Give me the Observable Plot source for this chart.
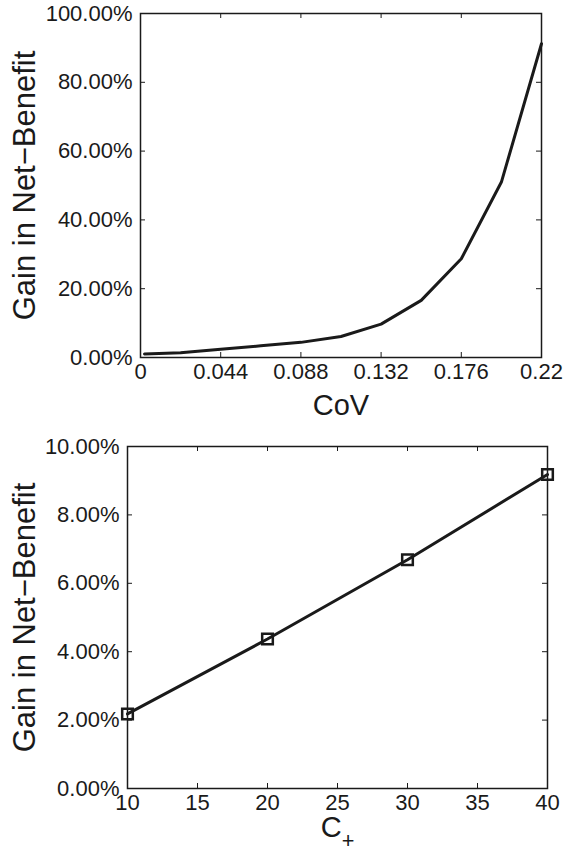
<!DOCTYPE html>
<html><head><meta charset="utf-8">
<script src="https://cdn.jsdelivr.net/npm/d3@7"></script>
<script src="https://cdn.jsdelivr.net/npm/@observablehq/plot@0.6"></script>
<style>
body{margin:0;background:#fff;}
#chart svg{display:block;}
</style></head><body><div id="chart"></div>
<script>
// Top panel: gain vs CoV
const covX = [0.0022, 0.022, 0.044, 0.066, 0.088, 0.11, 0.132, 0.154, 0.176, 0.198, 0.22];
const covGain = [1.0, 1.4, 2.4, 3.4, 4.4, 6.1, 9.7, 16.6, 28.7, 51.0, 91.2];
const covTicks = [0, 0.044, 0.088, 0.132, 0.176, 0.22];
const covTickLabels = ["0", "0.044", "0.088", "0.132", "0.176", "0.22"];
const gainTicksTop = [0, 20, 40, 60, 80, 100];
// Bottom panel: gain vs C+
const cPlus = [10, 20, 30, 40];
const cPlusGain = [2.18, 4.37, 6.69, 9.18];
const cPlusTicks = [10, 15, 20, 25, 30, 35, 40];
const gainTicksBottom = [0, 2, 4, 6, 8, 10];
const yLabel = "Gain in Net\u2212Benefit";

const ink = "#1a1a1a";
const font = "'Liberation Sans', Arial, Helvetica, sans-serif";
const pct = d => d.toFixed(2) + "%";
const tickFont = 22;

function panel({W, H, mL, mR, mT, mB, xDomain, yDomain, xTicks, xFmt, yTicks, data, xLabel, xLabelOffset, yLabelOffset, markers}) {
  const pw = W - mL - mR, ph = H - mT - mB, tl = 5;
  const marks = [
    Plot.frame({stroke: ink, strokeWidth: 1.5}),
    Plot.tickX(xTicks, {x: d => d, insetTop: ph - tl, stroke: ink, strokeWidth: 1}),
    Plot.tickX(xTicks, {x: d => d, insetBottom: ph - tl, stroke: ink, strokeWidth: 1}),
    Plot.tickY(yTicks, {y: d => d, insetRight: pw - tl, stroke: ink, strokeWidth: 1}),
    Plot.tickY(yTicks, {y: d => d, insetLeft: pw - tl, stroke: ink, strokeWidth: 1}),
    Plot.axisX(xTicks, {tickSize: 0, tickPadding: 6, tickFormat: xFmt, fontSize: tickFont, fill: ink,
      label: xLabel, labelAnchor: "center", labelArrow: "none", labelOffset: xLabelOffset}),
    Plot.axisY(yTicks, {tickSize: 0, tickPadding: 8, tickFormat: pct, fontSize: tickFont, fill: ink,
      label: yLabel, labelAnchor: "center", labelArrow: "none", labelOffset: yLabelOffset}),
    Plot.line(data, {x: "x", y: "y", stroke: ink, strokeWidth: 3})
  ];
  if (markers) marks.push(Plot.dot(data, {x: "x", y: "y", symbol: "square", r: 6, stroke: ink, strokeWidth: 2.5, fill: "none"}));
  return Plot.plot({
    width: W, height: H, marginLeft: mL, marginRight: mR, marginTop: mT, marginBottom: mB,
    style: {fontFamily: font, color: ink, background: "white", overflow: "visible"},
    x: {domain: xDomain}, y: {domain: yDomain},
    marks
  });
}

const topData = covX.map((x, i) => ({x, y: covGain[i]}));
const botData = cPlus.map((x, i) => ({x, y: cPlusGain[i]}));

const topSvg = panel({W: 566, H: 430, mL: 140, mR: 25, mT: 13, mB: 73,
  xDomain: [0, 0.22], yDomain: [0, 100], xTicks: covTicks,
  xFmt: d => covTickLabels[covTicks.indexOf(d)], yTicks: gainTicksTop,
  data: topData, xLabel: "CoV", xLabelOffset: 57, yLabelOffset: 128, markers: false});

const botSvg = panel({W: 566, H: 430, mL: 127, mR: 19, mT: 16, mB: 72,
  xDomain: [10, 40], yDomain: [0, 10], xTicks: cPlusTicks,
  xFmt: d => String(d), yTicks: gainTicksBottom,
  data: botData, xLabel: "C", xLabelOffset: 48, yLabelOffset: 115, markers: true});

for (const svg of [topSvg, botSvg]) {
  const s = d3.select(svg);
  s.selectAll('g[aria-label="y-axis label"] text').attr("font-size", 31);
  s.selectAll('g[aria-label="x-axis label"] text').attr("font-size", 29);
}
// subscript "+" on C
d3.select(botSvg).selectAll('g[aria-label="x-axis label"] text').each(function() {
  d3.select(this).append("tspan").attr("dy", "0.55em").attr("font-size", "0.75em").text("+");
});

document.getElementById("chart").append(topSvg, botSvg);
</script></body></html>
